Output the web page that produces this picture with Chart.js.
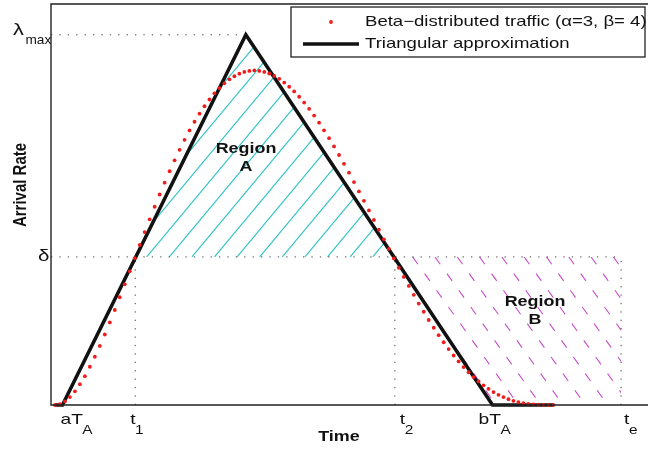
<!DOCTYPE html>
<html>
<head>
<meta charset="utf-8">
<script src="https://cdn.jsdelivr.net/npm/chart.js@4.4.0/dist/chart.umd.min.js"></script>
<style>
  html, body { margin: 0; padding: 0; background: #fff; }
  #wrap { width: 650px; height: 452px; }
</style>
</head>
<body>
<div id="wrap"><canvas id="grafico" width="650" height="452"></canvas></div>
<script>
// trafico beta (alfa=3, beta=4), una muestra cada 0.01 del intervalo [0, 1]
const pasoBeta = 0.01;
const tasaBeta = [
  0, 0.006, 0.023, 0.049, 0.085, 0.129, 0.179, 0.237, 0.299, 0.366,
  0.437, 0.512, 0.589, 0.668, 0.748, 0.829, 0.910, 0.992, 1.072, 1.151,
  1.229, 1.305, 1.378, 1.449, 1.517, 1.582, 1.644, 1.702, 1.756, 1.806,
  1.852, 1.894, 1.932, 1.965, 1.994, 2.019, 2.038, 2.054, 2.065, 2.071,
  2.074, 2.071, 2.065, 2.055, 2.040, 2.022, 1.999, 1.973, 1.944, 1.911,
  1.875, 1.836, 1.794, 1.750, 1.703, 1.654, 1.603, 1.550, 1.495, 1.440,
  1.382, 1.324, 1.266, 1.206, 1.147, 1.087, 1.027, 0.968, 0.909, 0.851,
  0.794, 0.738, 0.683, 0.629, 0.578, 0.527, 0.479, 0.433, 0.389, 0.347,
  0.307, 0.270, 0.235, 0.203, 0.173, 0.146, 0.122, 0.100, 0.080, 0.063,
  0.049, 0.036, 0.026, 0.018, 0.012, 0.007, 0.004, 0.002, 0.001, 0,
  0
];

// aproximacion triangular
const trianguloT = [0, 0.015, 0.383, 0.878, 1.0];
const trianguloY = [0, 0, 2.295, 0, 0];

// marcas del eje de tiempo: aT_A, t1, t2, bT_A, te
const marcasT = [0.015, 0.161, 0.682, 0.878, 1.136];
const marcasTexto = ["aT", "t", "t", "bT", "t"];
const marcasSub = ["A", "1", "2", "A", "e"];
const desplazaTexto = [-2, -5, 5, -14, 3];

// marcas del eje vertical
const lambdaMax = 2.295;
const delta = 0.918;
const picoT = 0.383;

const ejeX = { min: -0.008, max: 1.186 };
const ejeY = { min: 0, max: 2.486 };

const FUENTE = "'Liberation Sans', Arial, Helvetica, sans-serif";
const ESTIRA = 1.28;

const [tA, t1, t2, tB, tE] = marcasT;

const puntosBeta = tasaBeta.map((v, i) => ({ x: i * pasoBeta, y: v }));
const puntosTri = trianguloT.map((t, i) => ({ x: t, y: trianguloY[i] }));

function punteada(datos) {
  return {
    data: datos,
    showLine: true,
    borderColor: "#444",
    borderWidth: 1,
    borderDash: [1.3, 7.1],
    pointRadius: 0,
    order: 3,
    clip: false
  };
}

function texto(ctx, s, x, y, font, align, sx) {
  ctx.save();
  ctx.font = font;
  ctx.textAlign = align || "left";
  ctx.textBaseline = "middle";
  ctx.translate(x, y);
  ctx.scale(sx || ESTIRA, 1);
  ctx.fillText(s, 0, 0);
  ctx.restore();
}

function anchoTexto(ctx, s, font, sx) {
  ctx.save();
  ctx.font = font;
  const w = ctx.measureText(s).width * (sx || ESTIRA);
  ctx.restore();
  return w;
}

// rayado de las regiones A y B: lineas paralelas recortadas al poligono
function rayado(ctx, poligono, opciones) {
  const { color, pendiente, paso, x0, y0, guion } = opciones;
  ctx.save();
  ctx.beginPath();
  poligono.forEach((p, i) => i ? ctx.lineTo(p[0], p[1]) : ctx.moveTo(p[0], p[1]));
  ctx.closePath();
  ctx.clip();
  ctx.strokeStyle = color;
  ctx.lineWidth = 1.1;
  if (guion) ctx.setLineDash(guion);
  const ys = poligono.map(p => p[1]);
  const yTop = Math.min(...ys), yBot = Math.max(...ys);
  for (let k = -60; k <= 60; k++) {
    const xb = x0 + k * paso;
    // hacia abajo desde la linea de referencia y0
    if (yBot > y0) {
      ctx.beginPath();
      ctx.moveTo(xb, y0);
      ctx.lineTo(xb + (yBot - y0) * pendiente, yBot);
      ctx.stroke();
    }
    // hacia arriba
    if (yTop < y0) {
      ctx.beginPath();
      ctx.moveTo(xb, y0);
      ctx.lineTo(xb + (yTop - y0) * pendiente, yTop);
      ctx.stroke();
    }
  }
  ctx.restore();
}

const decorado = {
  id: "decorado",
  beforeDatasetsDraw(chart) {
    const { ctx } = chart;
    const x = chart.scales.x, y = chart.scales.y;
    const px = v => x.getPixelForValue(v), py = v => y.getPixelForValue(v);

    const regionA = [[px(t1), py(delta)], [px(picoT), py(lambdaMax)], [px(t2), py(delta)]];
    rayado(ctx, regionA, { color: "#2ec3c6", pendiente: -1 / 1.2, paso: 22.6, x0: 146.7, y0: py(delta) });

    const regionB = [[px(t2), py(delta)], [px(tE), py(delta)], [px(tE), py(0)], [px(tB), py(0)]];
    rayado(ctx, regionB, { color: "#c84bc8", pendiente: 1 / 1.4, paso: 22.3, x0: 412.7, y0: py(delta), guion: [9, 11.5] });
  },
  afterDraw(chart) {
    const { ctx, chartArea: a } = chart;
    const y = chart.scales.y;
    const px = v => chart.scales.x.getPixelForValue(v), py = v => y.getPixelForValue(v);

    // marco: izquierda, abajo y arriba
    ctx.save();
    ctx.strokeStyle = "#222";
    ctx.lineWidth = 1.4;
    ctx.beginPath();
    ctx.moveTo(a.right + 2, a.top);
    ctx.lineTo(a.left, a.top);
    ctx.lineTo(a.left, a.bottom);
    ctx.lineTo(a.right + 2, a.bottom);
    ctx.stroke();
    ctx.restore();

    ctx.fillStyle = "#111";

    // etiquetas del eje de tiempo
    marcasT.forEach((t, i) => {
      const x0 = px(t) + desplazaTexto[i];
      const f1 = "15px " + FUENTE, f2 = "12px " + FUENTE;
      texto(ctx, marcasTexto[i], x0, 420, f1);
      const w = anchoTexto(ctx, marcasTexto[i], f1);
      texto(ctx, marcasSub[i], x0 + w - 0.5, 430.5, f2);
    });

    // etiquetas del eje vertical
    texto(ctx, "\u03bb", 13, py(lambdaMax) - 4, "17px " + FUENTE);
    texto(ctx, "max", 25.5, py(lambdaMax) + 6, "13px " + FUENTE, "left", 1.05);
    texto(ctx, "\u03b4", 38, py(delta), "16px " + FUENTE);

    // titulos de ejes
    texto(ctx, "Time", 339, 437, "bold 14px " + FUENTE, "center");
    ctx.save();
    ctx.translate(21, 185);
    ctx.rotate(-Math.PI / 2);
    ctx.scale(1, ESTIRA);
    ctx.font = "bold 15px " + FUENTE;
    ctx.textAlign = "center";
    ctx.textBaseline = "middle";
    ctx.fillText("Arrival Rate", 0, 0);
    ctx.restore();

    // nombres de regiones
    texto(ctx, "Region", 246, 149, "bold 14px " + FUENTE, "center");
    texto(ctx, "A", 246, 167, "bold 14px " + FUENTE, "center");
    texto(ctx, "Region", 535, 302, "bold 14px " + FUENTE, "center");
    texto(ctx, "B", 535, 320, "bold 14px " + FUENTE, "center");

    // leyenda
    ctx.save();
    ctx.fillStyle = "#fff";
    ctx.fillRect(291, 7, 354, 50);
    ctx.strokeStyle = "#222";
    ctx.lineWidth = 1.3;
    ctx.strokeRect(291, 7, 354, 50);
    ctx.fillStyle = "#f01c1c";
    ctx.beginPath();
    ctx.arc(331, 22, 1.9, 0, Math.PI * 2);
    ctx.fill();
    ctx.strokeStyle = "#111";
    ctx.lineWidth = 3.5;
    ctx.beginPath();
    ctx.moveTo(303, 44);
    ctx.lineTo(359, 44);
    ctx.stroke();
    ctx.fillStyle = "#111";
    texto(ctx, "Beta\u2212distributed traffic (\u03b1=3, \u03b2= 4)", 365, 22, "14.5px " + FUENTE);
    texto(ctx, "Triangular approximation", 365, 44, "14.5px " + FUENTE);
    ctx.restore();
  }
};

new Chart(document.getElementById("grafico"), {
  type: "scatter",
  data: {
    datasets: [
      {
        label: "Beta-distributed traffic",
        data: puntosBeta,
        showLine: false,
        pointRadius: 1.9,
        pointBackgroundColor: "#f01c1c",
        pointBorderWidth: 0,
        order: 0,
        clip: false
      },
      {
        label: "Triangular approximation",
        data: puntosTri,
        showLine: true,
        borderColor: "#111",
        borderWidth: 3.6,
        pointRadius: 0,
        borderJoinStyle: "miter",
        order: 1,
        clip: false
      },
      punteada([{ x: ejeX.min, y: lambdaMax }, { x: picoT, y: lambdaMax }]),
      punteada([{ x: ejeX.min, y: delta }, { x: tE, y: delta }]),
      punteada([{ x: t1, y: 0 }, { x: t1, y: delta }]),
      punteada([{ x: t2, y: 0 }, { x: t2, y: delta }]),
      punteada([{ x: tE, y: 0 }, { x: tE, y: delta }])
    ]
  },
  options: {
    responsive: false,
    animation: false,
    devicePixelRatio: 1,
    layout: { padding: { left: 51, top: 1, right: 0, bottom: 47 } },
    scales: {
      x: { type: "linear", min: ejeX.min, max: ejeX.max, display: false },
      y: { type: "linear", min: ejeY.min, max: ejeY.max, display: false }
    },
    plugins: {
      legend: { display: false },
      title: { display: false },
      tooltip: { enabled: false }
    }
  },
  plugins: [decorado]
});
</script>
</body>
</html>
